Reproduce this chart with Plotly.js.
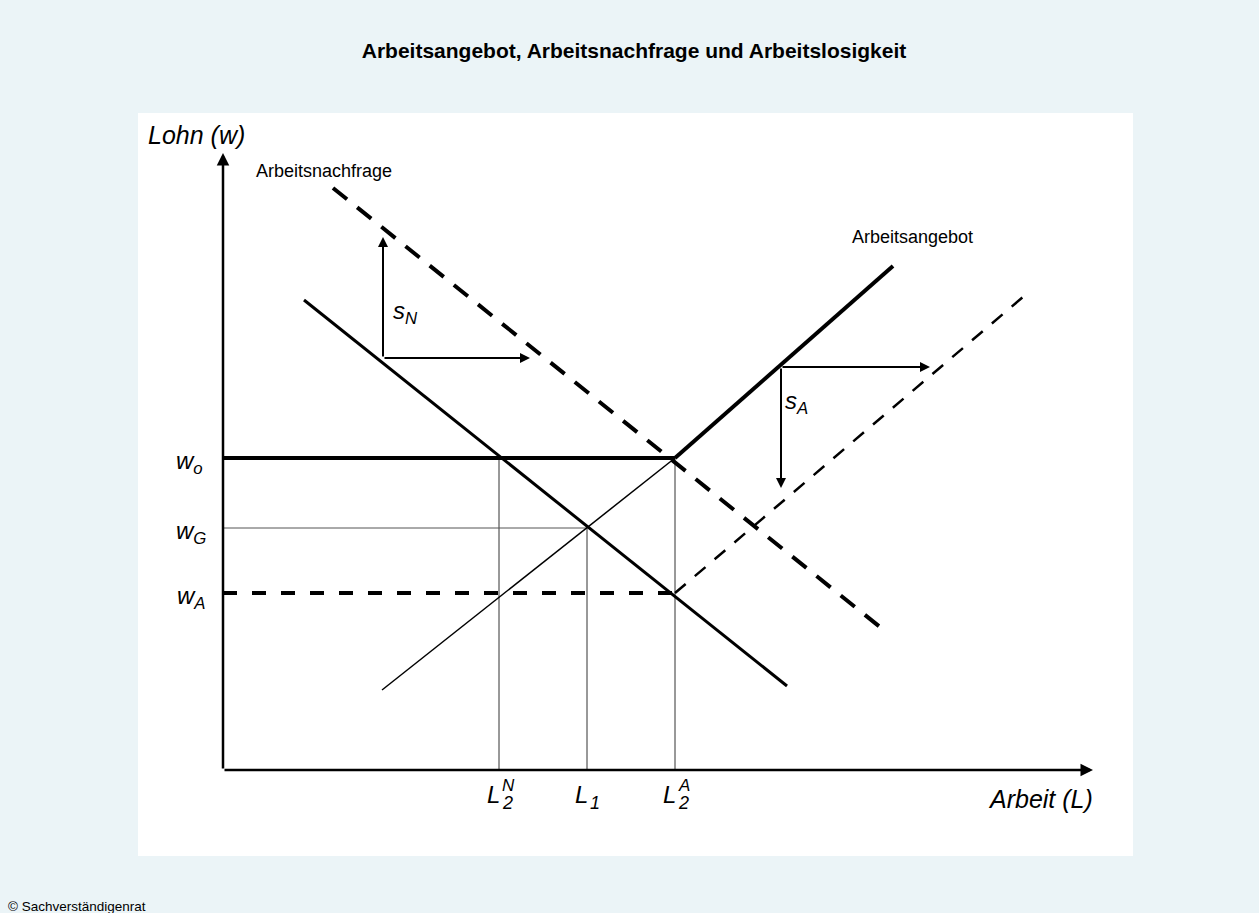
<!DOCTYPE html>
<html>
<head>
<meta charset="utf-8">
<script src="https://cdn.plot.ly/plotly-3.0.1.min.js"></script>
<style>html,body{margin:0;padding:0;background:#EBF4F7;}#chart{width:1259px;height:913px;}</style>
</head>
<body>
<div id="chart"></div>
<script>
// ---- Data (L = Arbeit, w = Lohn; arbitrary diagram units) ----
const demandL = [8.1, 56.4];
const demandW = [47.0, 8.4];
const demandShiftL = [11.0, 65.7];
const demandShiftW = [58.2, 14.3];
const supplyLowL = [15.9, 45.2];
const supplyLowW = [8.0, 31.2];
const supplyHighL = [45.2, 67.0];
const supplyHighW = [31.2, 50.4];
const supplyShiftL = [45.2, 80.0];
const supplyShiftW = [17.7, 47.3];
const wageNames = ['o', 'G', 'A'];
const wageValues = [31.2, 24.2, 17.7];
const wageLineEnds = [45.2, 36.4, 45.2];
const employmentValues = [27.6, 36.4, 45.2];
const employmentSub = ['2', '1', '2'];
const employmentSup = ['N', '', 'A'];
const employmentTops = [31.2, 24.2, 31.2];
const axisEndL = 87.0;
const axisEndW = 61.7;
const shiftNBase = [16.0, 41.2];
const shiftNTipUp = [16.0, 53.3];
const shiftNTipRight = [30.7, 41.2];
const shiftABase = [55.8, 40.3];
const shiftATipRight = [70.7, 40.3];
const shiftATipDown = [55.8, 28.2];

const FONT = 'Liberation Sans, Arial, Helvetica, sans-serif';

function line(x, y, width, dash, color) {
  return {x: x, y: y, type: 'scatter', mode: 'lines', hoverinfo: 'skip', showlegend: false,
          line: {color: color || '#000', width: width, dash: dash || 'solid'}};
}

const traces = [];
// guide lines
employmentValues.forEach((l, i) => traces.push(line([l, l], [0, employmentTops[i]], 1, 'solid', '#333')));
traces.push(line([0, wageLineEnds[1]], [wageValues[1], wageValues[1]], 1, 'solid', '#555'));
traces.push(line([0, wageLineEnds[0]], [wageValues[0], wageValues[0]], 4));
traces.push(line([0, wageLineEnds[2]], [wageValues[2], wageValues[2]], 4, '14px,15px'));
// curves
traces.push(line(demandL, demandW, 3));
traces.push(line(demandShiftL, demandShiftW, 4, '18px,13px'));
traces.push(line(supplyLowL, supplyLowW, 1.5));
traces.push(line(supplyHighL, supplyHighW, 4));
traces.push(line(supplyShiftL, supplyShiftW, 2.5, '14px,12px'));

function arrow(tip, tail, w) {
  return {x: tip[0], y: tip[1], ax: tail[0], ay: tail[1], xref: 'x', yref: 'y', axref: 'x', ayref: 'y',
          text: '', showarrow: true, arrowhead: 2, arrowsize: 1, arrowwidth: w, arrowcolor: '#000', standoff: 0, startstandoff: 0};
}
function txt(x, y, text, size, opts) {
  return Object.assign({x: x, y: y, xref: 'x', yref: 'y', text: text, showarrow: false,
          font: {family: FONT, size: size, color: '#000'}, xanchor: 'center', yanchor: 'middle'}, opts || {});
}

const annotations = [
  arrow([0, axisEndW], [0, 0], 2.5),
  arrow([axisEndL, 0], [0, 0], 2.5),
  arrow(shiftNTipUp, shiftNBase, 2),
  arrow(shiftNTipRight, shiftNBase, 2),
  arrow(shiftATipRight, shiftABase, 2),
  arrow(shiftATipDown, shiftABase, 2),
  txt(-7.7, 63.5, '<i>Lohn (w)</i>', 25, {xanchor: 'left'}),
  txt(87.2, -2.9, '<i>Arbeit (L)</i>', 25, {xanchor: 'right'}),
  txt(3.1, 59.9, 'Arbeitsnachfrage', 18, {xanchor: 'left'}),
  txt(62.7, 53.3, 'Arbeitsangebot', 18, {xanchor: 'left'}),
  txt(16.8, 45.8, '<i>s<sub>N</sub></i>', 24, {xanchor: 'left'}),
  txt(56.0, 36.8, '<i>s<sub>A</sub></i>', 24, {xanchor: 'left'}),
  {x: -0.133, y: -0.0673, xref: 'paper', yref: 'paper', text: '© Sachverständigenrat', showarrow: false,
   font: {family: FONT, size: 13.5, color: '#000'}, xanchor: 'left', yanchor: 'middle'}
];
const wageLabelX = [-1.8, -1.5, -1.5];
wageNames.forEach((n, i) => annotations.push(
  txt(wageLabelX[i], wageValues[i] - 0.4, '<i>w<sub>' + n + '</sub></i>', 24, {xanchor: 'right'})));
employmentValues.forEach((l, i) => {
  annotations.push(txt(l - 0.6, -2.4, '<i>L</i>', 24));
  annotations.push(txt(l + 0.8, -3.3, '<i>' + employmentSub[i] + '</i>', 18));
  if (employmentSup[i]) annotations.push(txt(l + 0.9, -1.5, '<i>' + employmentSup[i] + '</i>', 17));
});

const layout = {
  width: 1259, height: 913,
  paper_bgcolor: '#EBF4F7', plot_bgcolor: '#FFFFFF',
  margin: {l: 138, r: 126, t: 113, b: 57},
  title: {text: '<b>Arbeitsangebot, Arbeitsnachfrage und Arbeitslosigkeit</b>',
          font: {family: FONT, size: 21, color: '#000'},
          xref: 'container', yref: 'container', x: 0.5036, y: 1 - 51 / 913, xanchor: 'center', yanchor: 'middle'},
  xaxis: {range: [-8.5, 91.0], visible: false, showgrid: false, zeroline: false, fixedrange: true},
  yaxis: {range: [-8.6, 65.7], visible: false, showgrid: false, zeroline: false, fixedrange: true},
  annotations: annotations,
  showlegend: false
};

Plotly.newPlot('chart', traces, layout, {displayModeBar: false, staticPlot: true});
</script>
</body>
</html>
